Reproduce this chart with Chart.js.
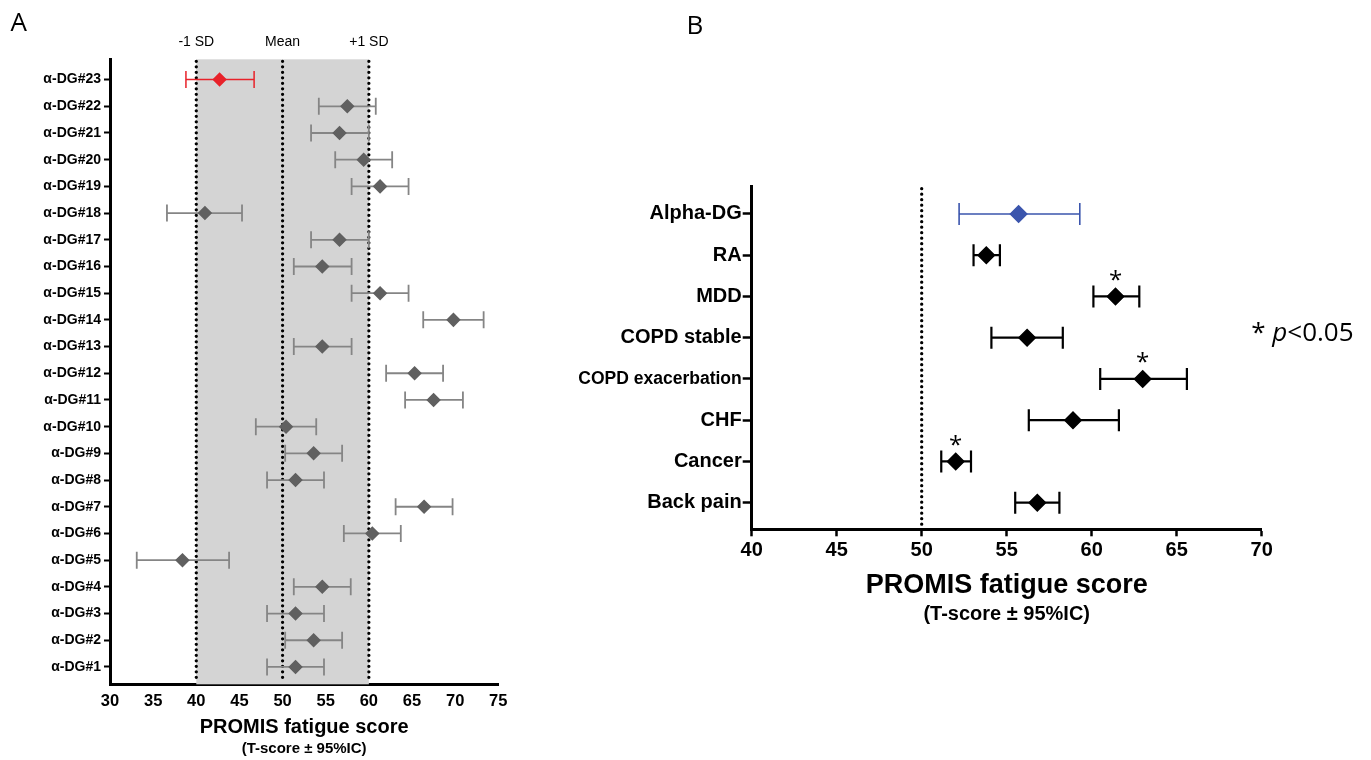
<!DOCTYPE html>
<html>
<head>
<meta charset="utf-8">
<script src="https://cdn.jsdelivr.net/npm/chart.js@4.4.1/dist/chart.umd.min.js"></script>
<style>
  html, body { margin: 0; padding: 0; background: #fff; }
  body { width: 1371px; height: 760px; position: relative; overflow: hidden; }
  canvas { position: absolute; top: 0; }
  #cA { left: 0; }
  #cB { left: 540px; }
</style>
</head>
<body>
<canvas id="cA" width="540" height="760"></canvas>
<canvas id="cB" width="831" height="760"></canvas>
<script>
// ---------- Panel A data (bottom to top) ----------
const catsA = ['α-DG#1','α-DG#2','α-DG#3','α-DG#4','α-DG#5','α-DG#6','α-DG#7','α-DG#8','α-DG#9','α-DG#10','α-DG#11','α-DG#12','α-DG#13','α-DG#14','α-DG#15','α-DG#16','α-DG#17','α-DG#18','α-DG#19','α-DG#20','α-DG#21','α-DG#22','α-DG#23'];
const meanA = [51.5, 53.6, 51.5, 54.6, 38.4, 60.4, 66.4, 51.5, 53.6, 50.4, 67.5, 65.3, 54.6, 69.8, 61.3, 54.6, 56.6, 41.0, 61.3, 59.4, 56.6, 57.5, 42.7];
const lowA  = [48.2, 50.3, 48.2, 51.3, 33.1, 57.1, 63.1, 48.2, 50.3, 46.9, 64.2, 62.0, 51.3, 66.3, 58.0, 51.3, 53.3, 36.6, 58.0, 56.1, 53.3, 54.2, 38.8];
const highA = [54.8, 56.9, 54.8, 57.9, 43.8, 63.7, 69.7, 54.8, 56.9, 53.9, 70.9, 68.6, 58.0, 73.3, 64.6, 58.0, 60.0, 45.3, 64.6, 62.7, 60.0, 60.8, 46.7];
const highlightA = 'α-DG#23';
const refValuesA = [40, 50, 60];
const refLabelsA = ['-1 SD', 'Mean', '+1 SD'];
const bandA = [40, 60];
const xTicksA = [30, 35, 40, 45, 50, 55, 60, 65, 70, 75];

// ---------- Panel B data (bottom to top) ----------
const catsB = ['Back pain', 'Cancer', 'CHF', 'COPD exacerbation', 'COPD stable', 'MDD', 'RA', 'Alpha-DG'];
const meanB = [56.8, 52.0, 58.9, 63.0, 56.2, 61.4, 53.8, 55.7];
const lowB  = [55.5, 51.15, 56.3, 60.5, 54.1, 60.1, 53.05, 52.2];
const highB = [58.1, 52.9, 61.6, 65.6, 58.3, 62.8, 54.6, 59.3];
const sigB  = [false, true, false, true, false, true, false, false];
const highlightB = 'Alpha-DG';
const refValuesB = [50];
const xTicksB = [40, 45, 50, 55, 60, 65, 70];

const SANS = '"Liberation Sans", Arial, Helvetica, sans-serif';
const OPEN = '"Open Sans", "Liberation Sans", sans-serif';
const OFFB = 540;
Chart.defaults.color = '#000';
Chart.defaults.font.family = SANS;

function forestPlugin(cfg) {
  return {
    id: 'forest_' + cfg.name,
    beforeDatasetsDraw(chart) {
      const ctx = chart.ctx, ca = chart.chartArea, x = chart.scales.x, y = chart.scales.y;
      ctx.save();
      if (cfg.band) {
        const x0 = x.getPixelForValue(cfg.band[0]), x1 = x.getPixelForValue(cfg.band[1]);
        ctx.fillStyle = '#d4d4d4';
        ctx.fillRect(x0, ca.top, x1 - x0, ca.bottom - ca.top);
      }
      ctx.strokeStyle = '#000';
      ctx.lineWidth = 3.3;
      ctx.lineCap = 'round';
      ctx.setLineDash([0, 5.5]);
      cfg.refs.forEach(v => {
        const px = x.getPixelForValue(v);
        ctx.beginPath();
        ctx.moveTo(px, ca.top + 2);
        ctx.lineTo(px, ca.bottom - 2);
        ctx.stroke();
      });
      ctx.setLineDash([]);
      ctx.lineCap = 'butt';
      cfg.low.forEach((lo, i) => {
        const yy = y.getPixelForValue(i + 1);
        const xl = x.getPixelForValue(lo), xh = x.getPixelForValue(cfg.high[i]);
        const hl = cfg.cats[i] === cfg.highlight;
        ctx.strokeStyle = hl ? cfg.hlBarColor : cfg.barColor;
        ctx.lineWidth = hl ? cfg.hlBarWidth : cfg.barWidth;
        ctx.beginPath();
        ctx.moveTo(xl, yy); ctx.lineTo(xh, yy);
        ctx.moveTo(xl, yy - cfg.cap); ctx.lineTo(xl, yy + cfg.cap);
        ctx.moveTo(xh, yy - cfg.cap); ctx.lineTo(xh, yy + cfg.cap);
        ctx.stroke();
      });
      ctx.restore();
    },
    afterDraw(chart) {
      cfg.texts(chart);
    }
  };
}

// ---------- Chart A ----------
new Chart(document.getElementById('cA'), {
  type: 'scatter',
  data: {
    datasets: [{
      data: meanA.map((m, i) => ({ x: m, y: i + 1 })),
      pointStyle: 'rectRot',
      pointRadius: 6.2,
      pointHoverRadius: 6.2,
      borderWidth: 1.5,
      backgroundColor: catsA.map(c => c === highlightA ? '#e8222a' : '#606060'),
      borderColor: catsA.map(c => c === highlightA ? '#e8222a' : '#606060'),
      showLine: false
    }]
  },
  options: {
    responsive: false,
    animation: false,
    events: [],
    layout: { padding: { top: 59.3, right: 540 - 498.3, bottom: 0, left: 0 } },
    plugins: { legend: { display: false }, tooltip: { enabled: false } },
    scales: {
      x: {
        type: 'linear', min: 30, max: 75,
        afterBuildTicks: s => { s.ticks = xTicksA.map(v => ({ value: v })); },
        afterFit: s => { s.height = 760 - 684.3; },
        grid: { drawOnChartArea: false, drawTicks: false },
        border: { color: '#000', width: 3 },
        ticks: { color: '#000', padding: 7, font: { size: 16.5, weight: 'bold', family: SANS } }
      },
      y: {
        type: 'linear', min: 0.35, max: 23.76,
        afterBuildTicks: s => { s.ticks = catsA.map((c, i) => ({ value: i + 1 })); },
        afterFit: s => { s.width = 110; },
        grid: { drawOnChartArea: false, drawTicks: true, tickLength: 6, tickWidth: 2, tickColor: '#000' },
        border: { color: '#000', width: 3 },
        ticks: { autoSkip: false, color: '#000', padding: 3, callback: v => catsA[v - 1], font: { size: 14, weight: 'bold', family: SANS } }
      }
    }
  },
  plugins: [forestPlugin({
    name: 'A', cats: catsA, low: lowA, high: highA, highlight: highlightA,
    band: bandA, refs: refValuesA, cap: 8.5,
    barColor: '#858585', barWidth: 1.8, hlBarColor: '#e8222a', hlBarWidth: 1.5,
    texts(chart) {
      const ctx = chart.ctx, ca = chart.chartArea, x = chart.scales.x;
      ctx.save();
      ctx.fillStyle = '#000';
      ctx.textAlign = 'center';
      ctx.textBaseline = 'middle';
      ctx.font = '14px ' + SANS;
      refValuesA.forEach((v, i) => ctx.fillText(refLabelsA[i], x.getPixelForValue(v), 42));
      const cx = (ca.left + ca.right) / 2;
      ctx.font = 'bold 20px ' + SANS;
      ctx.fillText('PROMIS fatigue score', cx, ca.bottom + 43.5);
      ctx.font = 'bold 15px ' + SANS;
      ctx.fillText('(T-score \u00B1 95%IC)', cx, ca.bottom + 65);
      ctx.textAlign = 'left';
      ctx.textBaseline = 'alphabetic';
      ctx.font = '26px ' + OPEN;
      ctx.fillText('A', 10.5, 30.5);
      ctx.restore();
    }
  })]
});

// ---------- Chart B ----------
new Chart(document.getElementById('cB'), {
  type: 'scatter',
  data: {
    datasets: [{
      data: meanB.map((m, i) => ({ x: m, y: i + 1 })),
      pointStyle: 'rectRot',
      pointRadius: 8.2,
      pointHoverRadius: 8.2,
      borderWidth: 1.5,
      backgroundColor: catsB.map(c => c === highlightB ? '#3b55ad' : '#000'),
      borderColor: catsB.map(c => c === highlightB ? '#3b55ad' : '#000'),
      showLine: false
    }]
  },
  options: {
    responsive: false,
    animation: false,
    events: [],
    layout: { padding: { top: 186.7, right: 831 - (1261.7 - OFFB), bottom: 0, left: 0 } },
    plugins: { legend: { display: false }, tooltip: { enabled: false } },
    scales: {
      x: {
        type: 'linear', min: 40, max: 70,
        afterBuildTicks: s => { s.ticks = xTicksB.map(v => ({ value: v })); },
        afterFit: s => { s.height = 760 - 529.3; },
        grid: { drawOnChartArea: false, drawTicks: true, tickLength: 7, tickWidth: 2.5, tickColor: '#000' },
        border: { color: '#000', width: 3 },
        ticks: { color: '#000', padding: 2, font: { size: 20, weight: 'bold', family: SANS } }
      },
      y: {
        type: 'linear', min: 0.355, max: 8.66,
        afterBuildTicks: s => { s.ticks = catsB.map((c, i) => ({ value: i + 1 })); },
        afterFit: s => { s.width = 751.7 - OFFB; },
        grid: { drawOnChartArea: false, drawTicks: true, tickLength: 9, tickWidth: 2.5, tickColor: '#000' },
        border: { color: '#000', width: 3 },
        ticks: {
          autoSkip: false, color: '#000', padding: 1, callback: v => catsB[v - 1],
          font: c => ({ size: (catsB[(c.tick ? c.tick.value : 1) - 1] || '').length > 14 ? 17.5 : 20, weight: 'bold', family: SANS })
        }
      }
    }
  },
  plugins: [forestPlugin({
    name: 'B', cats: catsB, low: lowB, high: highB, highlight: highlightB,
    band: null, refs: refValuesB, cap: 11,
    barColor: '#000', barWidth: 2.2, hlBarColor: '#3b55ad', hlBarWidth: 1.6,
    texts(chart) {
      const ctx = chart.ctx, ca = chart.chartArea, x = chart.scales.x, y = chart.scales.y;
      ctx.save();
      ctx.fillStyle = '#000';
      ctx.textAlign = 'center';
      ctx.textBaseline = 'alphabetic';
      ctx.font = '24px ' + OPEN;
      sigB.forEach((s, i) => {
        if (!s) return;
        const px = x.getPixelForValue(meanB[i]), py = y.getPixelForValue(i + 1);
        ctx.fillText('*', px, py - 21 + 12.5);
      });
      const cx = (ca.left + ca.right) / 2;
      ctx.textBaseline = 'middle';
      ctx.font = 'bold 27px ' + SANS;
      ctx.fillText('PROMIS fatigue score', cx, ca.bottom + 56);
      ctx.font = 'bold 20px ' + SANS;
      ctx.fillText('(T-score \u00B1 95%IC)', cx, ca.bottom + 85);
      // significance note
      ctx.textAlign = 'left';
      ctx.textBaseline = 'alphabetic';
      let nx = ca.right - 10.5;
      const base = 340.7;
      ctx.font = '26px ' + OPEN;
      ctx.fillText('* ', nx, base);
      nx += ctx.measureText('* ').width;
      ctx.font = 'italic 26px ' + OPEN;
      ctx.fillText('p', nx, base);
      nx += ctx.measureText('p').width;
      ctx.font = '26px ' + OPEN;
      ctx.fillText('<0.05', nx, base);
      ctx.fillText('B', 686.5 - OFFB, 34.3);
      ctx.restore();
    }
  })]
});
</script>
</body>
</html>
